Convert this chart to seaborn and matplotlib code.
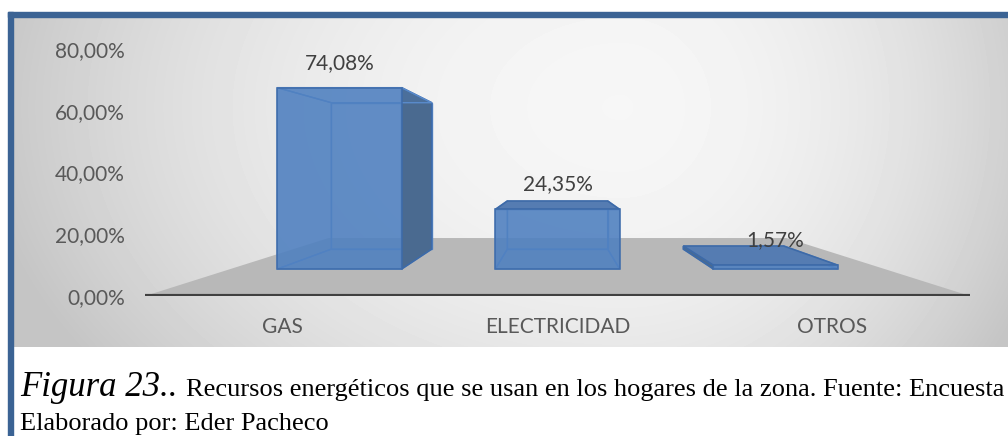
import numpy as np
import matplotlib
matplotlib.use('Agg')
import matplotlib.pyplot as plt
import seaborn as sns
from matplotlib.patches import Rectangle
from matplotlib.transforms import Affine2D

# Datos del grafico
categorias = ['GAS', 'ELECTRICIDAD', 'OTROS']
valores = [74.08, 24.35, 1.57]
etiquetas_barras = ['74,08%', '24,35%', '1,57%']
ticks_y = [0, 20, 40, 60, 80]
etiquetas_y = ['0,00%', '20,00%', '40,00%', '60,00%', '80,00%']

plt.rcParams['font.family'] = ['Lato', 'DejaVu Sans']

W, H = 1008, 436


def fx(px):
    return px / W


def fy(py):
    return 1 - py / H


fig = plt.figure(figsize=(W / 100, H / 100), dpi=100)

# Fondo con degradado (estilo Excel)
bg = fig.add_axes([fx(13), fy(347), (W - 13) / W, (347 - 17) / H])
yy, xx = np.mgrid[0:330, 0:995]
dx = (xx - 607) / np.where(xx < 607, 620.0, 430.0)
dy = (yy - 90) / 430.0
r2 = dx ** 2 + dy ** 2
v = np.clip(0.965 - 0.18 * r2, 0.77, 1)
bg.imshow(v, cmap='gray', vmin=0, vmax=1, aspect='auto', interpolation='bilinear')
bg.axis('off')

# Marco azul
azul_marco = '#3b6394'
fig.patches.append(Rectangle((fx(8), fy(17)), (W - 8) / W, 5 / H,
                             transform=fig.transFigure, color=azul_marco))
fig.patches.append(Rectangle((fx(8), 0), 5 / W, fy(12),
                             transform=fig.transFigure, color=azul_marco))

# Ejes principales
ax = fig.add_axes([fx(145), fy(296), (970 - 145) / W, (296 - 49) / H])
ax.set_facecolor('none')

# Perspectiva (punto de fuga y profundidades)
XV, YV = 1.0, 42.2
S_FRENTE, S_FONDO, S_PISO = 0.793, 0.64, 0.555


def proj(x, y, s):
    return (XV + (x - XV) * s, YV + (y - YV) * s)


# Caras frontales con seaborn
sns.barplot(x=categorias, y=valores, ax=ax, width=0.57, color='#4f80c0',
            saturation=1, alpha=0.85, edgecolor='#3d6aa8', linewidth=1.2,
            errorbar=None, zorder=3)
barras = list(ax.patches)

# Piso gris
piso = [proj(-0.5, 0, 1), proj(2.5, 0, 1), proj(2.5, 0, S_PISO), proj(-0.5, 0, S_PISO)]
ax.fill(*zip(*piso), color='#b8b8b8', zorder=0.5, lw=0)
ax.axhline(0, color='#404040', lw=3, zorder=1)

persp = Affine2D().translate(-XV, -YV).scale(S_FRENTE).translate(XV, YV)
borde = '#3d6aa8'


def cara(pts, visible, color, z):
    if visible:
        ax.fill(*zip(*pts), facecolor=color, edgecolor=borde, lw=1.2, zorder=z)
    else:
        ax.fill(*zip(*pts), facecolor=(0.31, 0.5, 0.75, 0.25),
                edgecolor='#5a8bcb', lw=1, zorder=z)


for p, etiqueta in zip(barras, etiquetas_barras):
    p.set_transform(persp + ax.transData)
    p.set_zorder(3)
    x0 = p.get_x()
    x1 = x0 + p.get_width()
    h = p.get_height()

    fondo = [proj(x0, 0, S_FONDO), proj(x1, 0, S_FONDO), proj(x1, h, S_FONDO), proj(x0, h, S_FONDO)]
    abajo = [proj(x0, 0, S_FRENTE), proj(x1, 0, S_FRENTE), proj(x1, 0, S_FONDO), proj(x0, 0, S_FONDO)]
    arriba = [proj(x0, h, S_FRENTE), proj(x1, h, S_FRENTE), proj(x1, h, S_FONDO), proj(x0, h, S_FONDO)]
    izq = [proj(x0, 0, S_FRENTE), proj(x0, h, S_FRENTE), proj(x0, h, S_FONDO), proj(x0, 0, S_FONDO)]
    der = [proj(x1, 0, S_FRENTE), proj(x1, h, S_FRENTE), proj(x1, h, S_FONDO), proj(x1, 0, S_FONDO)]

    cara(fondo, False, None, 2)
    cara(abajo, False, None, 2.1)
    cara(izq, x0 > XV, '#4a6a90', 2.2)
    cara(der, x1 < XV, '#4a6a90', 2.2)
    cara(arriba, h < YV, '#557cb2', 2.3)

    ax.annotate(etiqueta, xy=proj(x0 + p.get_width() / 2, h, S_FRENTE),
                xytext=(0, 18), textcoords='offset points', ha='center',
                va='center', fontsize=15, color='#404040', zorder=5)

ax.set_xlim(-0.5, 2.5)
ax.set_ylim(0, 80)
ax.set_yticks(ticks_y)
ax.set_yticklabels(etiquetas_y)
ax.set_xlabel('')
ax.set_ylabel('')
ax.tick_params(axis='y', length=0, pad=14.4, labelsize=15, labelcolor='#595959')
ax.tick_params(axis='x', length=0, pad=15, labelsize=15, labelcolor='#595959')
for s in ax.spines.values():
    s.set_visible(False)

# Pie de figura
fig.text(fx(20), fy(396), 'Figura 23..', family='Liberation Serif', style='italic',
         fontsize=25, va='baseline')
fig.text(fx(186), fy(396),
         'Recursos energéticos que se usan en los hogares de la zona. Fuente: Encuesta',
         family='Liberation Serif', fontsize=19, va='baseline')
fig.text(fx(20), fy(430), 'Elaborado por: Eder Pacheco', family='Liberation Serif',
         fontsize=19, va='baseline')

plt.savefig('out.png', dpi=100)
